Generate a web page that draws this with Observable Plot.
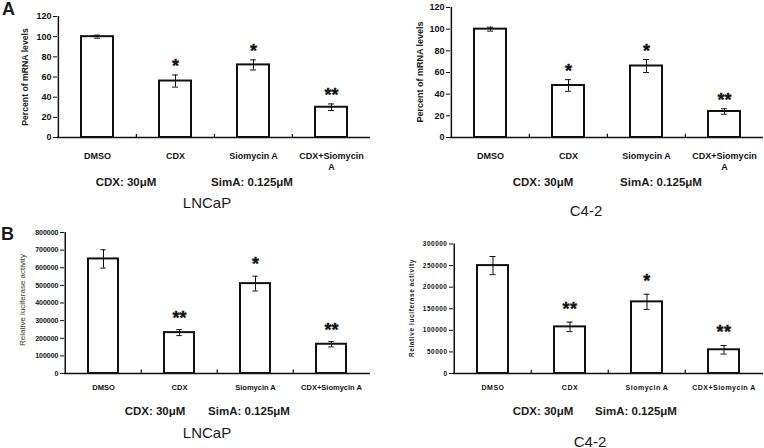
<!DOCTYPE html>
<html><head><meta charset="utf-8">
<script src="https://cdn.jsdelivr.net/npm/d3@7"></script>
<script src="https://cdn.jsdelivr.net/npm/@observablehq/plot@0.6"></script>
<style>
body{margin:0;background:#fff;width:764px;height:448px;position:relative;overflow:hidden;font-family:"Liberation Sans",Arial,sans-serif;color:#1a1a1a}
.panel{position:absolute}
.abs{position:absolute;white-space:nowrap;transform:translate(-50%,-50%);line-height:1}
.note{font-weight:bold;font-size:11.5px}
.cell{font-size:15px}
.ylab{position:absolute;white-space:nowrap;line-height:1;transform:translate(-50%,-50%) rotate(-90deg)}
.tag{position:absolute;font-weight:bold;font-size:18px;line-height:1}
</style></head><body>
<script>
// ---- data ----
const categories = ["DMSO", "CDX", "Siomycin A", "CDX+Siomycin A"];
const lncapMrna = [100, 56, 72, 30];
const lncapMrnaErr = [1.5, 6, 5, 3.3];
const c42Mrna = [100, 48, 66, 24];
const c42MrnaErr = [1.8, 5.4, 6, 2.5];
const lncapLuc = [650000, 232000, 510000, 166000];
const lncapLucErr = [52000, 17000, 42000, 15000];
const c42Luc = [250000, 108000, 166000, 55000];
const c42LucErr = [21000, 11000, 17500, 10000];
const starsA = ["", "*", "*", "**"];
const starsB = ["", "**", "*", "**"];
const mrnaTicks = [0, 20, 40, 60, 80, 100, 120];
const lncapLucTicks = [0, 100000, 200000, 300000, 400000, 500000, 600000, 700000, 800000];
const c42LucTicks = [0, 50000, 100000, 150000, 200000, 250000, 300000];
const mrnaLabel = "Percent of mRNA levels";
const lucLabel = "Relative luciferase activity";
const noteCdx = "CDX: 30\u03bcM";
const noteSim = "SimA: 0.125\u03bcM";
const cellLines = ["LNCaP", "C4-2"];

function add(el){ document.body.appendChild(el); return el; }
function div(cls, text, x, y, style){
  const d = document.createElement("div");
  d.className = cls; d.textContent = text;
  d.style.left = x + "px"; d.style.top = y + "px";
  if (style) Object.assign(d.style, style);
  return add(d);
}

function panel(o){
  const data = categories.map((c, i) => ({cat: c, v: o.values[i], e: o.errs[i], s: o.stars[i]}));
  const innerW = o.width - o.ml - o.mr;
  const step = innerW / categories.length;
  const bw = step * (1 - o.pad);
  const yMax = o.ticks[o.ticks.length - 1];
  const cap = (bw - 6) / 2;
  const svg = Plot.plot({
    width: o.width, height: o.height,
    marginLeft: o.ml, marginRight: o.mr, marginTop: o.mt, marginBottom: o.mb,
    style: {fontFamily: '"Liberation Sans", Arial, sans-serif', color: "#111", background: "transparent", overflow: "visible", letterSpacing: o.ls || "normal"},
    x: {domain: categories, paddingInner: o.pad, paddingOuter: o.pad / 2, align: 0.5},
    y: {domain: [0, yMax]},
    marks: [
      Plot.axisY({ticks: o.ticks, tickSize: 4, tickPadding: 2, tickFormat: d3.format("d"), fontSize: o.tickFont, fontWeight: "bold", label: null, stroke: "#111"}),
      Plot.axisX({tickSize: 0, tickPadding: o.xPad, fontSize: o.catFont, fontWeight: "bold", label: null, lineHeight: 1.28, tickFormat: o.catFormat || (d => d)}),
      Plot.barY(data, {x: "cat", y: "v", fill: "white", stroke: "#111", strokeWidth: 2}),
      Plot.ruleX(data, {x: "cat", y1: d => d.v - d.e, y2: d => d.v + d.e, stroke: "#111", strokeWidth: 1}),
      Plot.tickY(data, {x: "cat", y: d => d.v + d.e, insetLeft: cap, insetRight: cap, stroke: "#111", strokeWidth: 1}),
      Plot.tickY(data, {x: "cat", y: d => d.v - d.e, insetLeft: cap, insetRight: cap, stroke: "#111", strokeWidth: 1}),
      Plot.ruleX([categories[0]], {x: d => d, dx: -step / 2, y1: 0, y2: yMax, stroke: "#111", strokeWidth: 1.5}),
      Plot.ruleY([0], {stroke: "#111", strokeWidth: 1.5}),
      Plot.ruleX(categories.slice(1), {x: d => d, dx: -step / 2, y1: 0, y2: yMax * 0.025, stroke: "#111", strokeWidth: 1.2}),
      Plot.text(data, {x: "cat", y: d => d.v + d.e, text: "s", dy: o.starDy, fontSize: 18, fontWeight: "bold", lineAnchor: "bottom", fill: "#111", stroke: "#111", strokeWidth: 0.4})
    ]
  });
  const wrap = document.createElement("div");
  wrap.className = "panel";
  wrap.style.left = o.left + "px"; wrap.style.top = o.top + "px";
  wrap.appendChild(svg);
  add(wrap);
}

const wrapA = d => d === "CDX+Siomycin A" ? "CDX+Siomycin\nA" : d;

panel({left: 0, top: 0, width: 380, height: 175, ml: 57, mr: 10, mt: 16, mb: 38, pad: 0.59,
  values: lncapMrna, errs: lncapMrnaErr, stars: starsA, ticks: mrnaTicks,
  tickFont: 9, catFont: 9, xPad: 13, catFormat: wrapA, starDy: -3});
panel({left: 380, top: 0, width: 384, height: 175, ml: 70, mr: 1, mt: 7, mb: 38, pad: 0.59,
  values: c42Mrna, errs: c42MrnaErr, stars: starsA, ticks: mrnaTicks,
  tickFont: 9, catFont: 9, xPad: 13, catFormat: wrapA, starDy: -3});
panel({left: 0, top: 225, width: 380, height: 175, ml: 64, mr: 10, mt: 7, mb: 27, pad: 0.6,
  values: lncapLuc, errs: lncapLucErr, stars: starsB, ticks: lncapLucTicks,
  tickFont: 7, catFont: 7.5, xPad: 10, starDy: -6});
panel({left: 380, top: 225, width: 384, height: 175, ml: 73, mr: 1, mt: 18.5, mb: 27, pad: 0.6,
  values: c42Luc, errs: c42LucErr, stars: starsB, ticks: c42LucTicks,
  tickFont: 6.5, catFont: 7, xPad: 10, starDy: -7, ls: "0.5px"});

// y-axis titles
div("ylab", mrnaLabel, 25, 77, {fontWeight: "bold", fontSize: "8.7px"});
div("ylab", mrnaLabel, 420, 72, {fontWeight: "bold", fontSize: "9px"});
div("ylab", lucLabel, 23, 300, {fontSize: "8px", color: "#4a3320"});
div("ylab", lucLabel, 412, 308, {fontWeight: "bold", fontSize: "6.5px", letterSpacing: "0.6px"});

// notes
div("abs note", noteCdx, 126, 183);
div("abs note", noteSim, 252, 183);
div("abs cell", cellLines[0], 207, 202);
div("abs note", noteCdx, 543, 183);
div("abs note", noteSim, 661, 183);
div("abs cell", cellLines[1], 586, 210);
div("abs note", noteCdx, 155, 412);
div("abs note", noteSim, 249, 412);
div("abs cell", cellLines[0], 207, 432);
div("abs note", noteCdx, 543, 412);
div("abs note", noteSim, 636, 412);
div("abs cell", cellLines[1], 590, 441);

// panel tags
div("tag", "A", 2, 0);
div("tag", "B", 1, 225);
</script>
</body></html>
